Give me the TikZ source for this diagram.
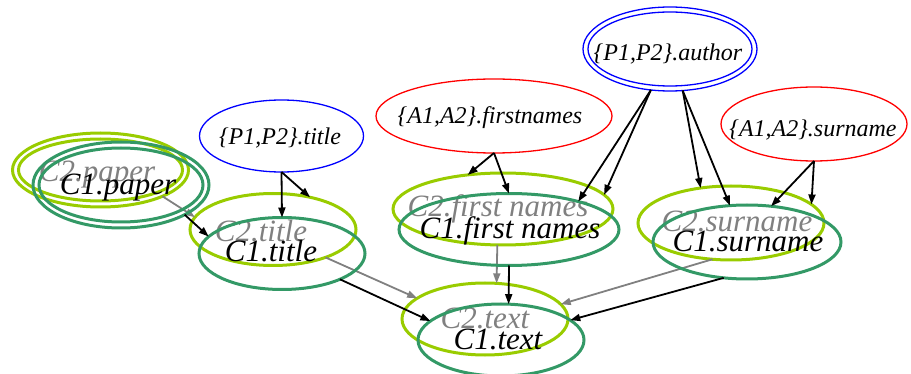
\documentclass[tikz,border=0pt]{standalone}
\usepackage{fontspec}
\setmainfont{Liberation Serif}
\usetikzlibrary{shapes.geometric,arrows.meta}
\definecolor{lightgr}{HTML}{99CC00}
\definecolor{darkgr}{HTML}{339966}
\definecolor{edgegray}{HTML}{808080}

\begin{document}
\begin{tikzpicture}[x=1pt,y=-1pt,
  ell/.style={ellipse, inner sep=0pt, outer sep=0pt},
  c2ell/.style={ell, draw=lightgr, line width=3pt},
  c1ell/.style={ell, draw=darkgr, line width=3pt},
  pell/.style={ell, draw=blue, line width=1.3pt},
  aell/.style={ell, draw=red, line width=1.3pt},
  rad/.style 2 args={minimum width=#1*2pt, minimum height=#2*2pt},
  biglbl/.style={anchor=base, inner sep=0pt, font=\fontsize{31}{31}\selectfont\itshape},
  smalllbl/.style={anchor=base, inner sep=0pt, font=\fontsize{24}{24}\selectfont\itshape},
  c2lbl/.style={biglbl, text=edgegray},
  c1lbl/.style={biglbl, text=black},
  garrow/.style={draw=edgegray, line width=1.8pt, -{Triangle[length=10pt,width=7pt]}},
  barrow/.style={draw=black, line width=1.8pt, -{Triangle[length=10pt,width=7pt]}}
]
\useasboundingbox (0,0) rectangle (911,374);

% second copy: ellipses, labels and dependencies
\node[c2ell, rad={88}{37}] (c2paper) at (100.5,170) {};
\draw[lightgr, line width=3pt] (c2paper.center) ellipse [x radius=82, y radius=31];
\node[c2ell, rad={83}{36}] (c2title) at (273,229.5) {};
\node[c2ell, rad={110}{36}] (c2first) at (503,209) {};
\node[c2ell, rad={93}{37}] (c2surname) at (731,223) {};
\node[c2ell, rad={83}{36}] (c2text) at (485,319) {};

\node[c2lbl] (c2paperlbl) at (97,182) {C2.paper};
\node[c2lbl] (c2titlelbl) at (261,242) {C2.title};
\node[c2lbl] (c2firstlbl) at (498,217) {C2.first names};
\node[c2lbl] (c2surnamelbl) at (737,232) {C2.surname};
\node[c2lbl] (c2textlbl) at (485,329) {C2.text};

\draw[garrow] (c2paper.-23.5) -- (c2title.171.4);
\draw[garrow] (c2title.-28.6) -- (c2text.163);
\draw[garrow] (c2first.-99) -- (c2text.72);
\draw[garrow] (c2surname.-117.8) -- (c2text.11.5);

% first copy
\node[c1ell, rad={88}{43}] (c1paper) at (121,185) {};
\draw[darkgr, line width=3pt] (c1paper.center) ellipse [x radius=82, y radius=37];
\node[c1ell, rad={83}{36}] (c1title) at (282,253.5) {};
\node[c1ell, rad={110}{36}] (c1first) at (509,229.5) {};
\node[c1ell, rad={94}{37}] (c1surname) at (747,242) {};
\node[c1ell, rad={83}{36}] (c1text) at (501,340) {};

\node[c1lbl] (c1paperlbl) at (118,195) {C1.paper};
\node[c1lbl] (c1titlelbl) at (271,262) {C1.title};
\node[c1lbl] (c1firstlbl) at (510,239) {C1.first names};
\node[c1lbl] (c1surnamelbl) at (748,252) {C1.surname};
\node[c1lbl] (c1textlbl) at (498,349) {C1.text};

\draw[barrow] (c1paper.-25) -- (c1title.167.4);
\draw[barrow] (c1title.-24) -- (c1text.165);
\draw[barrow] (c1first.south) -- (c1text.78);
\draw[barrow] (c1surname.-123) -- (c1text.16.7);

% shared attributes
\node[pell, rad={82}{36}] (ptitle) at (281.5,136) {};
\node[pell, rad={87}{42}] (pauthor) at (670,49) {};
\draw[blue, line width=1.3pt] (pauthor.center) ellipse [x radius=82, y radius=37];
\node[aell, rad={118}{37}] (afirst) at (494,116) {};
\node[aell, rad={93}{37}] (asurname) at (814,124) {};

\node[smalllbl] (ptitlelbl) at (280,145) {\{P1,P2\}.title};
\node[smalllbl] (pauthorlbl) at (668,61) {\{P1,P2\}.author};
\node[smalllbl] (afirstlbl) at (490,124) {\{A1,A2\}.firstnames};
\node[smalllbl] (asurnamelbl) at (813,137) {\{A1,A2\}.surname};

\draw[barrow] (ptitle.south) -- (c2title.41);
\draw[barrow] (ptitle.south) -- (c1title.north);
\draw[barrow] (afirst.south) -- (c2first.136.5);
\draw[barrow] (afirst.south) -- (c1first.north);
\draw[barrow] (pauthor.-115) -- (c1first.22);
\draw[barrow] (pauthor.-115) -- (c2first.8.4);
\draw[barrow] (pauthor.-73) -- (c2surname.131.7);
\draw[barrow] (pauthor.-73) -- (c1surname.115.3);
\draw[barrow] (asurname.south) -- (c2surname.13.5);
\draw[barrow] (asurname.south) -- (c1surname.56.7);
\end{tikzpicture}
\end{document}
